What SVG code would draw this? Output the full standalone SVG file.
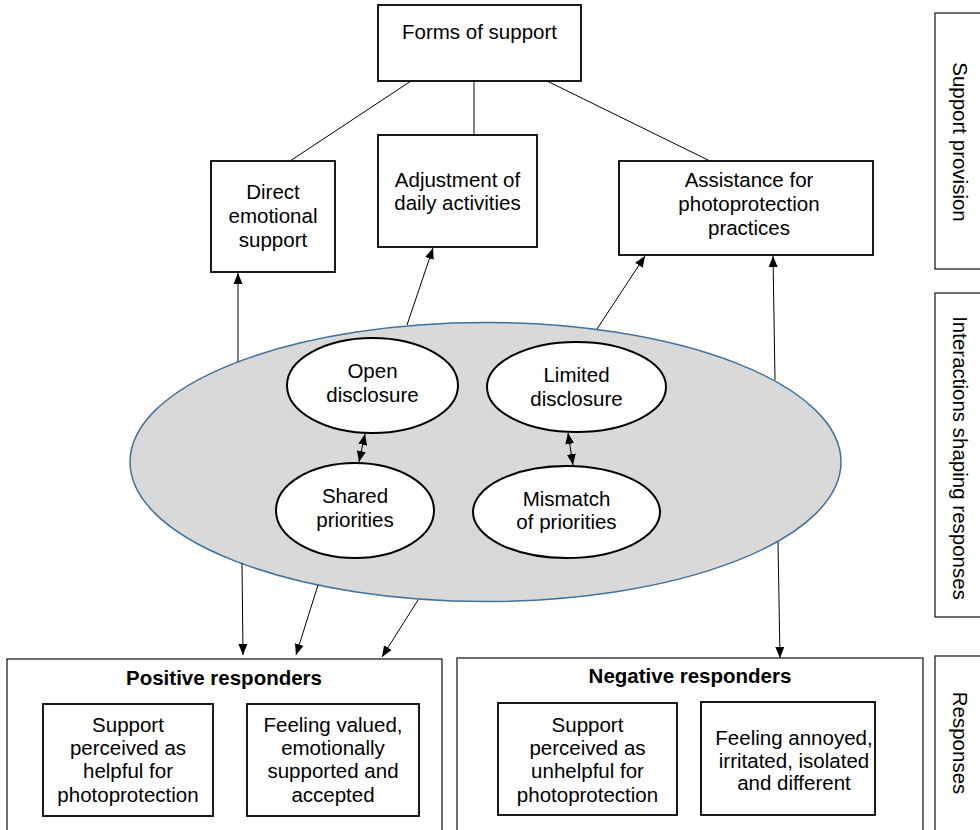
<svg xmlns="http://www.w3.org/2000/svg" width="980" height="830" viewBox="0 0 980 830">
<style>
text{font-family:"Liberation Sans",Arial,sans-serif;font-size:20.5px;fill:#000;text-anchor:middle}
.b{font-weight:bold}
.box{fill:#fff;stroke:#000;stroke-width:1.8}
.obox{fill:#fff;stroke:#222;stroke-width:1.3}
.oval{fill:#fff;stroke:#000;stroke-width:2}
.ln{stroke:#000;stroke-width:1;fill:none}
.ar{stroke:#000;stroke-width:1;fill:none;marker-end:url(#ah)}
.da{stroke:#000;stroke-width:1;fill:none;marker-end:url(#ah);marker-start:url(#ah)}
</style>
<defs>
<marker id="ah" markerUnits="userSpaceOnUse" markerWidth="12" markerHeight="10" refX="11" refY="5" orient="auto-start-reverse">
<path d="M0,0.5 L11,5 L0,9.5 z" fill="#000"/>
</marker>
</defs>
<rect width="980" height="830" fill="#fff"/>

<g id="side-support"><rect class="obox" x="935" y="13" width="55" height="256"/><text transform="translate(953,142) rotate(90)">Support provision</text></g>
<g id="side-interactions"><rect class="obox" x="935" y="293" width="55" height="324"/><text transform="translate(953,458) rotate(90)">Interactions shaping responses</text></g>
<g id="side-responses"><rect class="obox" x="935" y="656" width="55" height="180"/><text transform="translate(953,743) rotate(90)">Responses</text></g>

<g id="interactions"><ellipse cx="485.5" cy="462" rx="355.5" ry="139.5" fill="#d9d9d9" stroke="#41719c" stroke-width="1.5"/></g>

<g id="connectors">
<line class="ln" x1="411" y1="81" x2="290" y2="161"/>
<line class="ln" x1="474" y1="81" x2="474" y2="135"/>
<line class="ln" x1="547" y1="81" x2="710" y2="161"/>
<line class="ar" x1="238" y1="362" x2="238" y2="273"/>
<line class="ar" x1="407" y1="325" x2="433" y2="248"/>
<line class="ar" x1="597" y1="329" x2="645" y2="256"/>
<line class="ar" x1="775" y1="380" x2="773" y2="256"/>
<line class="ar" x1="778" y1="542" x2="780" y2="658"/>
<line class="ar" x1="242" y1="563" x2="243" y2="655"/>
<line class="ar" x1="318" y1="585" x2="296" y2="655"/>
<line class="ar" x1="418" y1="600" x2="382" y2="657"/>
<line class="da" x1="365" y1="434" x2="359" y2="462"/>
<line class="da" x1="568" y1="433" x2="573" y2="465"/>
</g>

<g id="forms"><rect class="box" x="378" y="5" width="203" height="76"/><text x="479.5" y="39">Forms of support</text></g>
<g id="direct"><rect class="box" x="211" y="161" width="124" height="111"/><text x="273" y="199">Direct</text><text x="273" y="223">emotional</text><text x="273" y="247">support</text></g>
<g id="adjustment"><rect class="box" x="378" y="135" width="159" height="112"/><text x="457.5" y="187">Adjustment of</text><text x="457.5" y="210">daily activities</text></g>
<g id="assistance"><rect class="box" x="619" y="161" width="254" height="94"/><text x="749" y="187">Assistance for</text><text x="749" y="211">photoprotection</text><text x="749" y="235">practices</text></g>

<g id="open"><ellipse class="oval" cx="372.5" cy="385.5" rx="85.5" ry="47.5"/><text x="372.5" y="378">Open</text><text x="372.5" y="402">disclosure</text></g>
<g id="shared"><ellipse class="oval" cx="355" cy="510.5" rx="79" ry="47.5"/><text x="355" y="503">Shared</text><text x="355" y="527">priorities</text></g>
<g id="limited"><ellipse class="oval" cx="576.5" cy="387" rx="89.5" ry="45"/><text x="576.5" y="382">Limited</text><text x="576.5" y="406">disclosure</text></g>
<g id="mismatch"><ellipse class="oval" cx="566.5" cy="512" rx="93.5" ry="46"/><text x="566.5" y="506">Mismatch</text><text x="566.5" y="529">of priorities</text></g>

<g id="positive"><rect class="obox" x="7" y="659" width="435" height="175"/><text class="b" x="224" y="685">Positive responders</text></g>
<g id="pos-helpful"><rect class="box" x="43" y="704" width="170" height="112"/><text x="128" y="732">Support</text><text x="128" y="755">perceived as</text><text x="128" y="778">helpful for</text><text x="128" y="802">photoprotection</text></g>
<g id="pos-valued"><rect class="box" x="247" y="704" width="172" height="112"/><text x="333" y="732">Feeling valued,</text><text x="333" y="755">emotionally</text><text x="333" y="778">supported and</text><text x="333" y="802">accepted</text></g>

<g id="negative"><rect class="obox" x="457" y="658" width="466" height="176"/><text class="b" x="690" y="683">Negative responders</text></g>
<g id="neg-unhelpful"><rect class="box" x="498" y="703" width="179" height="112"/><text x="587.5" y="732">Support</text><text x="587.5" y="755">perceived as</text><text x="587.5" y="778">unhelpful for</text><text x="587.5" y="802">photoprotection</text></g>
<g id="neg-annoyed"><rect class="box" x="701" y="702" width="174" height="113"/><text x="794" y="745">Feeling annoyed,</text><text x="794" y="768">irritated, isolated</text><text x="794" y="790">and different</text></g>
</svg>
